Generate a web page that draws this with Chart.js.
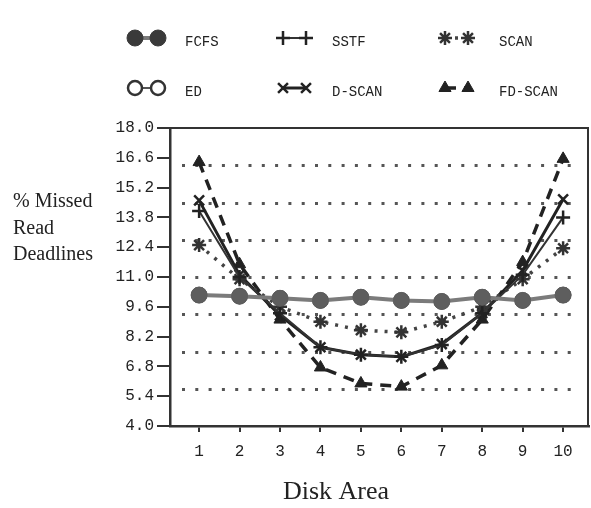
<!DOCTYPE html>
<html>
<head>
<meta charset="utf-8">
<script src="https://cdn.jsdelivr.net/npm/chart.js@4.4.1/dist/chart.umd.min.js"></script>
<style>
    html, body { margin: 0; padding: 0; background: #fff; }
    #chart { display: block; }
</style>
</head>
<body>
<canvas id="chart" width="591" height="508"></canvas>
<script>
// % missed read deadlines per disk area, one array per scheduler
const diskAreas = [1, 2, 3, 4, 5, 6, 7, 8, 9, 10];
const fcfs = [10.15, 10.1, 10.0, 9.9, 10.05, 9.9, 9.85, 10.05, 9.9, 10.15];
const ed = [10.15, 10.1, 10.0, 9.9, 10.05, 9.9, 9.85, 10.05, 9.9, 10.15];
const sstf = [14.1, 11.0, 9.3, 7.7, 7.35, 7.25, 7.8, 9.3, 11.1, 13.8];
const scan = [12.5, 10.9, 9.6, 8.9, 8.5, 8.4, 8.9, 9.6, 10.9, 12.35];
const dscan = [14.6, 11.1, 9.2, 7.7, 7.35, 7.25, 7.85, 9.3, 11.3, 14.65];
const fdscan = [16.4, 11.6, 9.0, 6.75, 6.0, 5.85, 6.85, 9.0, 11.7, 16.55];

const yTickValues = [4.0, 5.4, 6.8, 8.2, 9.6, 11.0, 12.4, 13.8, 15.2, 16.6, 18.0];
const gridValues = [5.75, 7.5, 9.25, 11.0, 12.75, 14.5, 16.25];
const yTitleLines = ['% Missed', 'Read', 'Deadlines'];
const xTitle = 'Disk Area';

const INK = '#222';

function series(label, values, style) {
    return Object.assign({
        label: label,
        data: values.map(function (v, i) { return { x: diskAreas[i], y: v }; }),
        tension: 0,
        pointRotation: 0
    }, style);
}

const datasets = [
    series('FCFS', fcfs, {
        borderColor: '#7b7b7b', borderWidth: 4,
        pointStyle: 'circle', pointRadius: 8, pointBackgroundColor: '#5e5e5e',
        pointBorderColor: '#5e5e5e', pointBorderWidth: 1
    }),
    series('ED', ed, {
        borderColor: '#555', borderWidth: 2,
        pointStyle: 'circle', pointRadius: 7, pointBackgroundColor: '#fff',
        pointBorderColor: '#333', pointBorderWidth: 2.5
    }),
    series('SSTF', sstf, {
        borderColor: '#333', borderWidth: 2,
        pointStyle: 'cross', pointRadius: 7,
        pointBorderColor: '#222', pointBorderWidth: 2.5
    }),
    series('SCAN', scan, {
        borderColor: '#444', borderWidth: 3.5, borderDash: [3, 7],
        pointStyle: 'star', pointRadius: 7,
        pointBorderColor: '#333', pointBorderWidth: 2.5
    }),
    series('D-SCAN', dscan, {
        borderColor: '#222', borderWidth: 3,
        pointStyle: 'crossRot', pointRadius: 7,
        pointBorderColor: '#222', pointBorderWidth: 2.5
    }),
    series('FD-SCAN', fdscan, {
        borderColor: '#222', borderWidth: 3.5, borderDash: [11, 8],
        pointStyle: 'triangle', pointRadius: 7, pointBackgroundColor: '#222',
        pointBorderColor: '#222', pointBorderWidth: 1
    })
];

// legend grid: [dataset index, column, row]
const legendLayout = [[0, 0, 0], [2, 1, 0], [3, 2, 0], [1, 0, 1], [4, 1, 1], [5, 2, 1]];
const legendMarkX = [135, 283, 445];
const legendTextX = [185, 332, 499];
const legendRowY = [38, 88];
const legendGap = 23;

function markerOpts(ds) {
    return {
        pointStyle: ds.pointStyle,
        radius: ds.pointRadius,
        rotation: 0,
        borderWidth: ds.pointBorderWidth
    };
}

const decorPlugin = {
    id: 'decor',
    beforeDatasetsDraw(chart) {
        const ctx = chart.ctx;
        const area = chart.chartArea;
        const y = chart.scales.y;
        ctx.save();
        // dotted horizontal rules
        ctx.strokeStyle = '#555';
        ctx.lineWidth = 3;
        ctx.setLineDash([3, 10.3]);
        gridValues.forEach(function (v) {
            const py = Math.round(y.getPixelForValue(v)) + 0.5;
            ctx.beginPath();
            ctx.moveTo(area.left + 12, py);
            ctx.lineTo(area.right - 8, py);
            ctx.stroke();
        });
        // box round the plot
        ctx.setLineDash([]);
        ctx.strokeStyle = '#333';
        ctx.lineWidth = 2;
        ctx.beginPath();
        ctx.moveTo(area.left, area.top);
        ctx.lineTo(area.right - 1, area.top);
        ctx.lineTo(area.right - 1, area.bottom);
        ctx.stroke();
        ctx.restore();
    },
    afterDraw(chart) {
        const ctx = chart.ctx;
        ctx.save();
        legendLayout.forEach(function (item) {
            const ds = chart.data.datasets[item[0]];
            const x0 = legendMarkX[item[1]];
            const x1 = x0 + legendGap;
            const ly = legendRowY[item[2]];
            ctx.strokeStyle = ds.borderColor;
            ctx.lineWidth = ds.borderWidth;
            ctx.setLineDash(ds.borderDash || []);
            ctx.beginPath();
            ctx.moveTo(x0, ly);
            ctx.lineTo(x1, ly);
            ctx.stroke();
            ctx.setLineDash([]);
            ctx.fillStyle = item[0] === 0 ? '#3a3a3a' : (ds.pointBackgroundColor || ds.pointBorderColor);
            ctx.strokeStyle = item[0] === 0 ? '#3a3a3a' : ds.pointBorderColor;
            ctx.lineWidth = ds.pointBorderWidth;
            Chart.helpers.drawPoint(ctx, markerOpts(ds), x0, ly);
            Chart.helpers.drawPoint(ctx, markerOpts(ds), x1, ly);
            ctx.fillStyle = INK;
            ctx.font = '14px "Liberation Mono"';
            ctx.textBaseline = 'middle';
            ctx.textAlign = 'left';
            ctx.fillText(ds.label, legendTextX[item[1]], ly + 4);
        });
        // axis titles
        ctx.fillStyle = INK;
        ctx.font = '20px "Liberation Serif"';
        ctx.textAlign = 'left';
        ctx.textBaseline = 'middle';
        yTitleLines.forEach(function (line, i) {
            ctx.fillText(line, 13, 202 + i * 26.5);
        });
        ctx.font = '26px "Liberation Serif"';
        ctx.textAlign = 'center';
        ctx.fillText(xTitle, 336, 492);
        ctx.restore();
    }
};

const chart = new Chart(document.getElementById('chart'), {
    type: 'line',
    data: { datasets: datasets },
    plugins: [decorPlugin],
    options: {
        responsive: false,
        animation: false,
        devicePixelRatio: 1,
        layout: { autoPadding: false, padding: { top: 128, left: 110, right: 2, bottom: 2 } },
        plugins: { legend: { display: false }, tooltip: { enabled: false } },
        scales: {
            x: {
                type: 'linear',
                min: 0.28,
                max: 10.64,
                afterBuildTicks: function (scale) {
                    scale.ticks = diskAreas.map(function (v) { return { value: v }; });
                },
                afterFit: function (scale) {
                    scale.height = 80;
                    scale.paddingLeft = 0;
                    scale.paddingRight = 0;
                },
                ticks: {
                    autoSkip: false, maxRotation: 0, padding: 10,
                    color: INK, font: { family: 'Liberation Mono', size: 16 },
                    callback: function (v) { return String(v); }
                },
                grid: { drawOnChartArea: false, tickLength: 6, color: '#333', lineWidth: 2 },
                border: { color: '#333', width: 2.5 }
            },
            y: {
                min: 4,
                max: 18,
                afterBuildTicks: function (scale) {
                    scale.ticks = yTickValues.map(function (v) { return { value: v }; });
                },
                afterFit: function (scale) {
                    scale.width = 60;
                    scale.paddingTop = 0;
                    scale.paddingBottom = 0;
                },
                ticks: {
                    autoSkip: false, padding: 3,
                    color: INK, font: { family: 'Liberation Mono', size: 16 },
                    callback: function (v) { return Number(v).toFixed(1); }
                },
                grid: { drawOnChartArea: false, tickLength: 13, color: '#333', lineWidth: 2 },
                border: { color: '#333', width: 2.5 }
            }
        }
    }
});
</script>
</body>
</html>
